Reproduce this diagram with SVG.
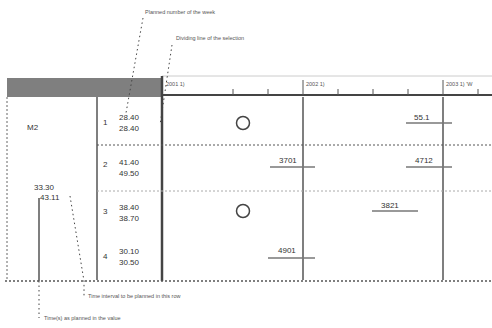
<svg xmlns="http://www.w3.org/2000/svg" width="492" height="328" viewBox="0 0 492 328">
<style>
text{font-family:"Liberation Sans",Arial,sans-serif;fill:#333}
.v{font-size:8px}
.a{font-size:5.5px;fill:#555}
.lead{stroke:#444;stroke-width:1;stroke-dasharray:1.5 3;fill:none}
.dot{stroke:#666;stroke-width:1;stroke-dasharray:2 2;fill:none}
.g{stroke:#555;stroke-width:1.5;fill:none}
.ul{stroke:#777;stroke-width:1.5}
</style>
<rect width="492" height="328" fill="#fff"/>
<g id="header">
<rect x="7" y="78" width="154" height="19" fill="#7f7f7f"/>
<line x1="162" y1="76" x2="492" y2="76" stroke="#ccc" stroke-width="1"/>
<line x1="162" y1="95" x2="492" y2="95" stroke="#444" stroke-width="2"/>
<g stroke="#555" stroke-width="1">
<line x1="303" y1="80" x2="303" y2="95"/><line x1="443" y1="80" x2="443" y2="95"/>
<line x1="233" y1="89" x2="233" y2="95"/><line x1="268" y1="89" x2="268" y2="95"/>
<line x1="338" y1="89" x2="338" y2="95"/><line x1="373" y1="89" x2="373" y2="95"/><line x1="408" y1="89" x2="408" y2="95"/>
<line x1="478" y1="89" x2="478" y2="95"/>
</g>
<text class="a" x="166" y="86">2001 1)</text>
<text class="a" x="306" y="86">2002 1)</text>
<text class="a" x="446" y="86">2003 1) 'W</text>
</g>
<g id="frame">
<line x1="7" y1="97" x2="7" y2="280" class="dot"/>
<line x1="162" y1="76" x2="162" y2="281" stroke="#444" stroke-width="2.5"/>
<line x1="97" y1="97" x2="97" y2="280" class="g"/>
<line x1="303" y1="97" x2="303" y2="280" class="g"/>
<line x1="443" y1="97" x2="443" y2="280" class="g"/>
<line x1="97" y1="145" x2="492" y2="145" stroke="#555" stroke-width="1" stroke-dasharray="2 2"/>
<line x1="97" y1="191" x2="492" y2="191" stroke="#aaa" stroke-width="1" stroke-dasharray="2 2"/>
<line x1="5" y1="281" x2="492" y2="281" stroke="#555" stroke-width="1.5" stroke-dasharray="2 2"/>
<line x1="39" y1="198" x2="39" y2="281" class="g"/>
</g>
<g id="labels">
<text class="v" x="27" y="130">M2</text>
<text class="v" x="34" y="190">33.30</text>
<text class="v" x="40" y="200">43.11</text>
<text class="v" x="103" y="125">1</text><text class="v" x="119" y="120">28.40</text><text class="v" x="119" y="131">28.40</text>
<text class="v" x="103" y="167">2</text><text class="v" x="119" y="165">41.40</text><text class="v" x="119" y="176">49.50</text>
<text class="v" x="103" y="214">3</text><text class="v" x="119" y="210">38.40</text><text class="v" x="119" y="221">38.70</text>
<text class="v" x="103" y="259">4</text><text class="v" x="119" y="254">30.10</text><text class="v" x="119" y="265">30.50</text>
</g>
<g id="row1">
<circle cx="243" cy="123" r="6.5" fill="none" stroke="#444" stroke-width="1.5"/>
<text class="v" x="414" y="120">55.1</text><line class="ul" x1="406" y1="123" x2="452" y2="123"/>
</g>
<g id="row2">
<text class="v" x="279" y="163">3701</text><line class="ul" x1="270" y1="167" x2="315" y2="167"/>
<text class="v" x="415" y="163">4712</text><line class="ul" x1="406" y1="167" x2="452" y2="167"/>
</g>
<g id="row3">
<circle cx="243" cy="211" r="6.5" fill="none" stroke="#444" stroke-width="1.5"/>
<text class="v" x="381" y="208">3821</text><line class="ul" x1="372" y1="211" x2="418" y2="211"/>
</g>
<g id="row4">
<text class="v" x="278" y="253">4901</text><line class="ul" x1="268" y1="258" x2="315" y2="258"/>
</g>
<g id="connectors">
<polyline class="lead" points="143,18 126,113"/>
<polyline class="lead" points="172,45 160,125"/>
<polyline class="lead" points="70,196 84,281 84,297"/>
<polyline class="lead" points="39,281 39,318"/>
</g>
<g id="annotations">
<text class="a" x="145" y="14">Planned number of the week</text>
<text class="a" x="176" y="40">Dividing line of the selection</text>
<text class="a" x="88" y="298">Time interval to be planned in this row</text>
<text class="a" x="44" y="320">Time(s) as planned in the value</text>
</g>
</svg>
